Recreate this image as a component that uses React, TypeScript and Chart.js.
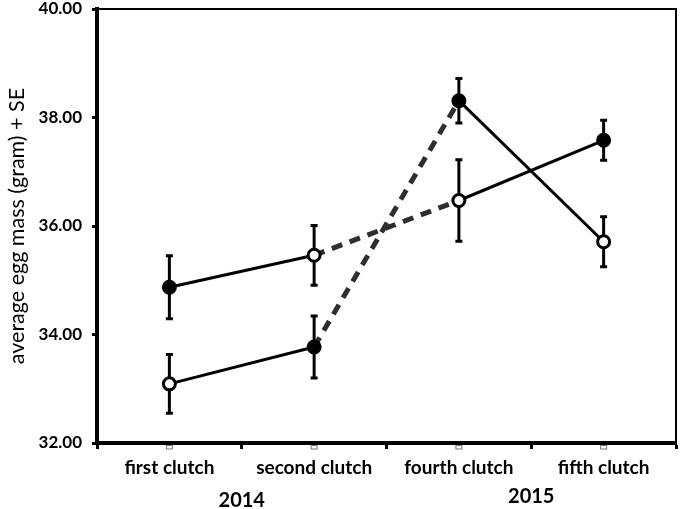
import React, { useEffect, useRef } from "react";
import { Chart, registerables } from "chart.js";

Chart.register(...registerables);

const categories = ["first clutch", "second clutch", "fourth clutch", "fifth clutch"];
const yearLabels = ["2014", "2015"];
// index of the category after which each year label sits (between categories)
const yearAfterIndex = [0, 2];

const seriesA = [34.87, 35.46, 36.47, 37.58];
const seriesASE = [0.58, 0.55, 0.75, 0.37];
const seriesAFilled = [true, false, false, true];

const seriesB = [33.09, 33.77, 38.31, 35.71];
const seriesBSE = [0.54, 0.57, 0.41, 0.46];
const seriesBFilled = [false, true, true, false];

const yMin = 32;
const yMax = 40;
const yStep = 2;

const FONT = "Lato";

const errorBarPlugin = {
  id: "errorBars",
  beforeDatasetsDraw(chart: any) {
    const { ctx } = chart;
    const y = chart.scales.y;
    chart.data.datasets.forEach((ds: any, di: number) => {
      const meta = chart.getDatasetMeta(di);
      meta.data.forEach((pt: any, i: number) => {
        const v = ds.data[i];
        const e = ds.se[i];
        const top = y.getPixelForValue(v + e);
        const bot = y.getPixelForValue(v - e);
        ctx.save();
        ctx.strokeStyle = "#000";
        ctx.lineWidth = 3;
        ctx.beginPath();
        ctx.moveTo(pt.x, top);
        ctx.lineTo(pt.x, bot);
        ctx.stroke();
        ctx.beginPath();
        ctx.moveTo(pt.x - 3.5, top);
        ctx.lineTo(pt.x + 3.5, top);
        ctx.moveTo(pt.x - 3.5, bot);
        ctx.lineTo(pt.x + 3.5, bot);
        ctx.stroke();
        ctx.restore();
      });
    });
  },
};

const framePlugin = {
  id: "frame",
  afterDraw(chart: any) {
    const { ctx, chartArea } = chart;
    const { left, right, top, bottom } = chartArea;
    ctx.save();
    ctx.strokeStyle = "#000";
    ctx.lineWidth = 2;
    ctx.beginPath();
    ctx.moveTo(left, top);
    ctx.lineTo(right, top);
    ctx.lineTo(right, bottom);
    ctx.stroke();
    // small grey marks under category centers
    const x = chart.scales.x;
    ctx.strokeStyle = "#777";
    ctx.lineWidth = 1;
    categories.forEach((_, i) => {
      const px = x.getPixelForValue(i);
      ctx.strokeRect(px - 3, bottom + 2.5, 6, 3.5);
    });
    // year labels between categories
    ctx.fillStyle = "#000";
    ctx.font = `bold 20px ${FONT}`;
    ctx.textAlign = "center";
    ctx.textBaseline = "alphabetic";
    yearLabels.forEach((lab, k) => {
      const i = yearAfterIndex[k];
      const px = (x.getPixelForValue(i) + x.getPixelForValue(i + 1)) / 2;
      ctx.fillText(lab, px, bottom + (k === 0 ? 64 : 60));
    });
    ctx.restore();
  },
};

function makeDataset(label: string, data: number[], se: number[], filled: boolean[]) {
  return {
    label,
    data,
    se,
    borderColor: "#000",
    borderWidth: 3,
    pointRadius: 6,
    pointHoverRadius: 6,
    pointBorderWidth: 3,
    pointBorderColor: "#000",
    pointBackgroundColor: filled.map((f) => (f ? "#000" : "#fff")),
    fill: false,
    tension: 0,
    segment: {
      borderDash: (c: any) => (c.p0DataIndex === 1 ? [11, 8] : undefined),
      borderColor: (c: any) => (c.p0DataIndex === 1 ? "#2e2e2e" : undefined),
      borderWidth: (c: any) => (c.p0DataIndex === 1 ? 5 : undefined),
    },
  };
}

export default function App() {
  const ref = useRef<HTMLCanvasElement | null>(null);
  useEffect(() => {
    if (!ref.current) return;
    const chart = new Chart(ref.current, {
      type: "line",
      data: {
        labels: categories,
        datasets: [
          makeDataset("A", seriesA, seriesASE, seriesAFilled) as any,
          makeDataset("B", seriesB, seriesBSE, seriesBFilled) as any,
        ],
      },
      options: {
        animation: false,
        responsive: true,
        maintainAspectRatio: false,
        layout: { padding: { left: 4, top: 7, right: 3, bottom: 0 } },
        plugins: {
          legend: { display: false },
          tooltip: { enabled: false },
        },
        scales: {
          x: {
            type: "category",
            offset: true,
            grid: {
              offset: true,
              drawOnChartArea: false,
              tickLength: 6,
              tickWidth: 3,
              tickColor: "#000",
            },
            border: { display: true, width: 4, color: "#000" },
            ticks: {
              color: "#000",
              font: { family: FONT, weight: "bold", size: 19 },
              padding: 7,
              maxRotation: 0,
              autoSkip: false,
            },
            afterFit: (s: any) => {
              s.height = 66;
              s.paddingLeft = 0;
              s.paddingRight = 0;
            },
          },
          y: {
            min: yMin,
            max: yMax,
            ticks: {
              stepSize: yStep,
              color: "#000",
              font: { family: FONT, weight: "bold", size: 17 },
              padding: 10,
              callback: (v: any) => Number(v).toFixed(2),
            },
            grid: {
              drawOnChartArea: false,
              tickLength: 5,
              tickWidth: 3,
              tickColor: "#000",
            },
            border: { display: true, width: 4, color: "#000" },
            title: {
              display: true,
              text: "average egg mass (gram) + SE",
              color: "#000",
              font: { family: FONT, size: 21.5 },
              padding: { top: 0, bottom: 2 },
            },
            afterFit: (s: any) => {
              s.width = 93;
              s.paddingTop = 0;
              s.paddingBottom = 0;
            },
          },
        },
      },
      plugins: [errorBarPlugin, framePlugin],
    });
    return () => chart.destroy();
  }, []);
  return (
    <div style={{ position: "absolute", left: 0, top: 0, width: 685, height: 509, background: "#fff" }}>
      <canvas ref={ref} />
    </div>
  );
}
